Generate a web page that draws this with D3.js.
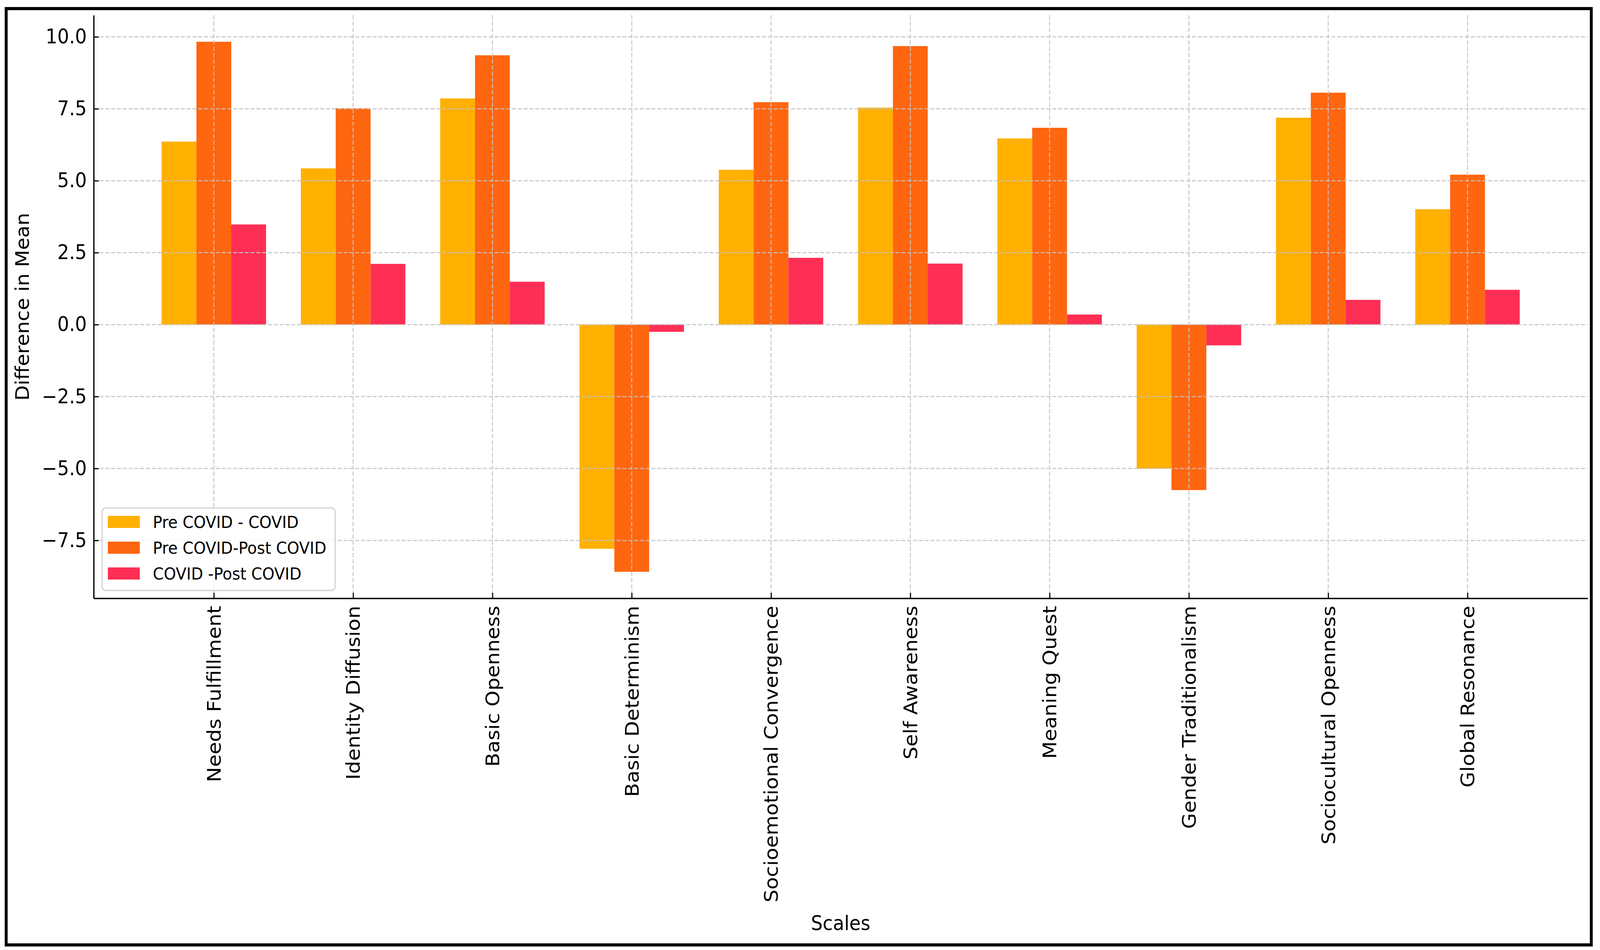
<!DOCTYPE html>
<html>
<head>
<meta charset="utf-8">
<script src="https://cdn.jsdelivr.net/npm/d3@7"></script>
<style>
  html, body { margin: 0; padding: 0; background: #fff; overflow: hidden; width: 100%; height: 100%; }
  svg { display: block; width: 100vw; height: 100vh; }
  text { font-family: "DejaVu Sans", sans-serif; fill: #000; }
</style>
</head>
<body>
<svg id="chart" viewBox="0 0 4406 2431" preserveAspectRatio="none"></svg>
<script>
// data
var scales = ["Needs Fulfillment", "Identity Diffusion", "Basic Openness", "Basic Determinism",
  "Socioemotional Convergence", "Self Awareness", "Meaning Quest", "Gender Traditionalism",
  "Sociocultural Openness", "Global Resonance"];
var preCovidToCovid = [6.36, 5.43, 7.86, -7.79, 5.38, 7.54, 6.47, -5.01, 7.19, 4.01];
var preCovidToPost = [9.83, 7.52, 9.36, -8.59, 7.73, 9.68, 6.84, -5.75, 8.06, 5.21];
var covidToPost = [3.48, 2.11, 1.49, -0.25, 2.32, 2.12, 0.35, -0.72, 0.86, 1.21];
var seriesNames = ["Pre COVID - COVID", "Pre COVID-Post COVID", "COVID -Post COVID"];
var seriesColors = ["#ffb000", "#fe6610", "#ff2e55"];
var yTicks = [-7.5, -5.0, -2.5, 0.0, 2.5, 5.0, 7.5, 10.0];

var series = [preCovidToCovid, preCovidToPost, covidToPost];

var svg = d3.select("#chart");
var plotLeft = 258, plotRight = 4372, plotTop = 39, plotBottom = 1531;
var barW = 0.25;

// outer frame
svg.append("rect")
  .attr("x", 17).attr("y", 22).attr("width", 4365).attr("height", 2396)
  .attr("fill", "none").attr("stroke", "#000").attr("stroke-width", 8);

// matplotlib style 5% margins
var xPad = (scales.length - 1 + 3 * barW) * 0.05;
var x = d3.scaleLinear()
  .domain([-1.5 * barW - xPad, scales.length - 1 + 1.5 * barW + xPad])
  .range([plotLeft, plotRight]);

var allVals = d3.merge(series).concat([0]);
var ymin = d3.min(allVals), ymax = d3.max(allVals);
var yPad = (ymax - ymin) * 0.05;
var y = d3.scaleLinear().domain([ymin - yPad, ymax + yPad]).range([plotBottom, plotTop]);

// bars
series.forEach(function(vals, s) {
  svg.append("g").selectAll("rect")
    .data(vals)
    .join("rect")
    .attr("x", (d, i) => x(i + (s - 1) * barW - barW / 2))
    .attr("width", (d, i) => x(barW) - x(0))
    .attr("y", d => y(Math.max(0, d)))
    .attr("height", d => Math.abs(y(d) - y(0)))
    .attr("fill", seriesColors[s]);
});

// grid on top of bars
var grid = svg.append("g")
  .attr("stroke", "#c4c4c4").attr("stroke-width", 3)
  .attr("stroke-dasharray", "11,5").attr("opacity", 0.85);
grid.selectAll("line.h").data(yTicks).join("line")
  .attr("class", "h")
  .attr("x1", plotLeft).attr("x2", plotRight)
  .attr("y1", d => y(d)).attr("y2", d => y(d));
grid.selectAll("line.v").data(scales).join("line")
  .attr("class", "v")
  .attr("x1", (d, i) => x(i)).attr("x2", (d, i) => x(i))
  .attr("y1", plotTop).attr("y2", plotBottom);

// y axis
var yAxis = svg.append("g")
  .attr("transform", "translate(" + plotLeft + ",0)")
  .call(d3.axisLeft(y).tickValues(yTicks).tickFormat(d3.format(".1f")).tickSizeInner(-14).tickSizeOuter(0).tickPadding(19));
yAxis.select(".domain").attr("stroke-width", 3.5);
yAxis.selectAll(".tick line").attr("stroke-width", 3);
yAxis.selectAll("text").attr("font-size", 51).attr("font-family", "DejaVu Sans").attr("fill", "#000");

// x axis
var xAxis = svg.append("g")
  .attr("transform", "translate(0," + plotBottom + ")")
  .call(d3.axisBottom(x).tickValues(d3.range(scales.length)).tickFormat(i => scales[i]).tickSizeInner(-14).tickSizeOuter(0));
xAxis.select(".domain").attr("stroke-width", 3.5);
xAxis.selectAll(".tick line").attr("stroke-width", 3);
xAxis.selectAll("text")
  .attr("font-size", 52).attr("font-family", "DejaVu Sans").attr("fill", "#000")
  .attr("transform", "rotate(-90)")
  .attr("text-anchor", "end")
  .attr("x", -19).attr("y", 0).attr("dy", "0.35em");

// axis titles
svg.append("text")
  .attr("x", (plotLeft + plotRight) / 2).attr("y", 2380)
  .attr("text-anchor", "middle").attr("font-size", 51)
  .text("Scales");
svg.append("text")
  .attr("transform", "translate(62," + (plotTop + plotBottom) / 2 + ") rotate(-90)")
  .attr("text-anchor", "middle").attr("dy", "0.35em").attr("font-size", 51)
  .text("Difference in Mean");

// legend
var legend = svg.append("g");
legend.append("rect")
  .attr("x", 281).attr("y", 1300).attr("width", 642).attr("height", 211)
  .attr("rx", 10).attr("fill", "#fff").attr("fill-opacity", 0.8)
  .attr("stroke", "#d0d0d0").attr("stroke-width", 3);
var items = legend.selectAll("g.item").data(seriesNames).join("g")
  .attr("class", "item")
  .attr("transform", (d, i) => "translate(297," + (1320 + i * 66) + ")");
items.append("rect")
  .attr("width", 88).attr("height", 31)
  .attr("fill", (d, i) => seriesColors[i]);
items.append("text")
  .attr("x", 124).attr("y", 15.5).attr("dy", "0.35em")
  .attr("font-size", 43)
  .text(d => d);
</script>
</body>
</html>
